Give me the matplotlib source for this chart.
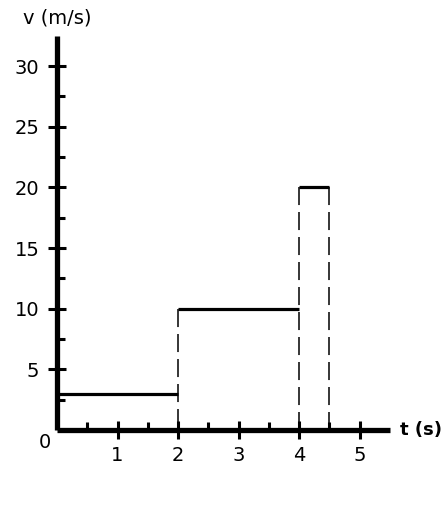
import matplotlib
matplotlib.use("Agg")
import matplotlib.pyplot as plt
from matplotlib.ticker import FixedLocator

plt.rcParams['font.family'] = ['DejaVu Sans']
plt.rcParams['lines.scale_dashes'] = False

# Data
t_edges = [0, 2, 4, 4.5]
v_values = [3, 10, 20]
x_ticks = [1, 2, 3, 4, 5]
y_ticks = [5, 10, 15, 20, 25, 30]
x_minor = [0.5, 1.5, 2.5, 3.5, 4.5]
y_minor = [2.5, 7.5, 12.5, 17.5, 22.5, 27.5]

W, H = 448, 528
fig = plt.figure(figsize=(W / 100, H / 100), dpi=100)
x0, y0 = 57, 430
xpx, ypx = 60.5, 12.13
xmax, ymax = 5.5, 32.5
ax = fig.add_axes([x0 / W, (H - y0) / H, xmax * xpx / W, ymax * ypx / H])
ax.set_xlim(0, xmax)
ax.set_ylim(0, ymax)

for s in ['top', 'right']:
    ax.spines[s].set_visible(False)
for s in ['left', 'bottom']:
    ax.spines[s].set_linewidth(3.8)
    ax.spines[s].set_capstyle('butt')

ax.set_xticks(x_ticks)
ax.set_yticks(y_ticks)
ax.xaxis.set_minor_locator(FixedLocator(x_minor))
ax.yaxis.set_minor_locator(FixedLocator(y_minor))
ax.tick_params(which='major', direction='inout', length=13.5, width=2.2,
               labelsize=14, pad=6)
ax.tick_params(which='minor', direction='in', length=5.8, width=2.2)
ax.tick_params(axis='x', which='major', pad=5)

# Horizontal segments
for i, v in enumerate(v_values):
    ax.plot([t_edges[i], t_edges[i + 1]], [v, v], color='black', lw=2.3,
            solid_capstyle='butt', clip_on=False)

# Dashed verticals
for i in range(1, len(t_edges)):
    t = t_edges[i]
    if i < len(v_values):
        top = max(v_values[i - 1], v_values[i])
    else:
        top = v_values[-1]
    ax.plot([t, t], [top, 0], color='black', lw=1.1,
            linestyle=(0, (13, 5)), clip_on=False)

fig.text(57 / W, 1 - 18 / H, 'v (m/s)', ha='center', va='center', fontsize=14)
fig.text(400 / W, 1 - 430 / H, 't (s)', ha='left', va='center', fontsize=13,
         fontweight='bold')
fig.text(45 / W, 1 - 443 / H, '0', ha='center', va='center', fontsize=14)

fig.savefig('out.png', dpi=100)
